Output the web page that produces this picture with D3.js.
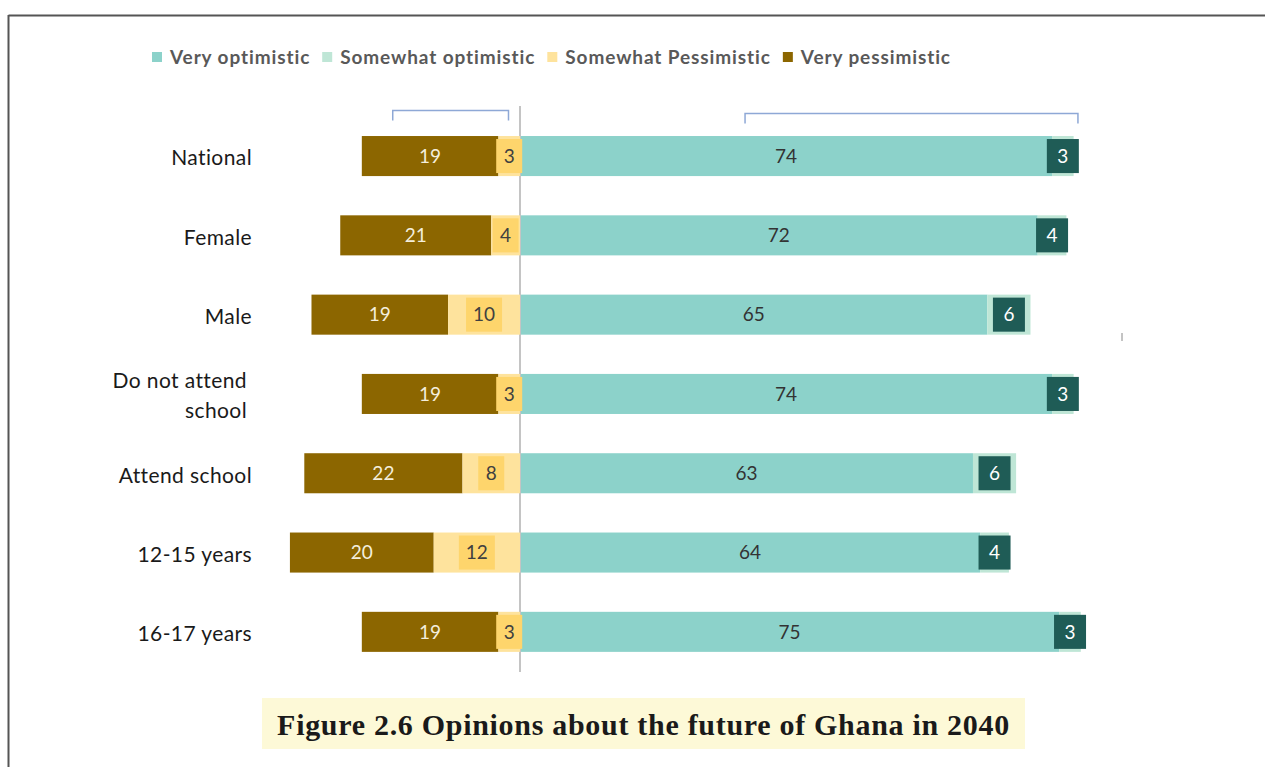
<!DOCTYPE html>
<html>
<head>
<meta charset="utf-8">
<script src="https://cdn.jsdelivr.net/npm/d3@7"></script>
<style>
  html, body { margin: 0; padding: 0; background: #fff; }
  svg { display: block; }
</style>
</head>
<body>
<svg id="chart" width="1265" height="767"></svg>
<script>
// Survey groups (top to bottom)
const categories = ["National", "Female", "Male", "Do not attend school", "Attend school", "12-15 years", "16-17 years"];
// Shares of respondents (%) per opinion
const veryOptimistic      = [74, 72, 65, 74, 63, 64, 75];
const somewhatOptimistic  = [3, 4, 6, 3, 6, 4, 3];
const somewhatPessimistic = [3, 4, 10, 3, 8, 12, 3];
const veryPessimistic     = [19, 21, 19, 19, 22, 20, 19];
const seriesNames = ["Very optimistic", "Somewhat optimistic", "Somewhat Pessimistic", "Very pessimistic"];
const title = "Figure 2.6 Opinions about the future of Ghana in 2040";

const colors = {
  vo: "#8cd2ca",
  so: "#bfe6d6",
  soBox: "#1f5c56",
  sp: "#fee39d",
  spBox: "#fed56c",
  vp: "#8c6600"
};

const svg = d3.select("#chart");
const sans = "Lato, 'Open Sans', sans-serif";

// frame lines (top and left edges)
svg.append("line").attr("x1", 8.5).attr("x2", 1265).attr("y1", 15.5).attr("y2", 15.5)
  .attr("stroke", "#555").attr("stroke-width", 2);
svg.append("line").attr("x1", 8.5).attr("x2", 8.5).attr("y1", 15).attr("y2", 767)
  .attr("stroke", "#555").attr("stroke-width", 2);

const x = d3.scaleLinear().domain([-40, 90]).range([232.4, 1167.1]);
const y = d3.scaleBand().domain(categories).range([116.2, 671.7]).paddingInner(0.495).paddingOuter(0.25);
const bw = y.bandwidth();
const len = v => x(v) - x(0);

const rows = categories.map((c, i) => ({
  cat: c, vo: veryOptimistic[i], so: somewhatOptimistic[i],
  sp: somewhatPessimistic[i], vp: veryPessimistic[i]
}));

// brackets above the bars
const bracket = (a, b, top, drop) => `M${x(a)},${top + drop}V${top}H${x(b)}V${top + drop}`;
svg.append("path").attr("d", bracket(-17.7, -1.6, 110.5, 10))
  .attr("fill", "none").attr("stroke", "#8ea8d6").attr("stroke-width", 1.5);
svg.append("path").attr("d", bracket(31.3, 77.6, 113.5, 10))
  .attr("fill", "none").attr("stroke", "#8ea8d6").attr("stroke-width", 1.5);

// centre line
svg.append("line").attr("x1", x(0)).attr("x2", x(0)).attr("y1", 106).attr("y2", 672)
  .attr("stroke", "#c4c4c4").attr("stroke-width", 2);

const g = svg.append("g");
const row = g.selectAll("g.row").data(rows).join("g").attr("class", "row");

// very pessimistic
row.append("rect")
  .attr("x", d => x(-d.sp - d.vp)).attr("width", d => len(d.vp))
  .attr("y", d => y(d.cat)).attr("height", bw).attr("fill", colors.vp);
// somewhat pessimistic
row.append("rect")
  .attr("x", d => x(-d.sp)).attr("width", d => len(d.sp))
  .attr("y", d => y(d.cat)).attr("height", bw).attr("fill", colors.sp);
// very optimistic
row.append("rect")
  .attr("x", x(0) + 1).attr("width", d => len(d.vo) - 1)
  .attr("y", d => y(d.cat)).attr("height", bw).attr("fill", colors.vo);
// somewhat optimistic
row.append("rect")
  .attr("x", d => x(d.vo)).attr("width", d => len(d.so))
  .attr("y", d => y(d.cat)).attr("height", bw).attr("fill", colors.so);

const labelFont = 19;
// value labels: very pessimistic
row.append("text")
  .attr("x", d => x(-d.sp - d.vp / 2)).attr("y", d => y(d.cat) + bw / 2 + 2)
  .attr("text-anchor", "middle").attr("dominant-baseline", "middle")
  .attr("font-family", sans).attr("font-size", labelFont).attr("fill", "#f4eedc")
  .text(d => d.vp);
// very optimistic
row.append("text")
  .attr("x", d => x(d.vo / 2)).attr("y", d => y(d.cat) + bw / 2 + 2)
  .attr("text-anchor", "middle").attr("dominant-baseline", "middle")
  .attr("font-family", sans).attr("font-size", labelFont).attr("fill", "#333")
  .text(d => d.vo);

// boxed labels: somewhat pessimistic
row.append("rect")
  .attr("width", d => String(d.sp).length > 1 ? 36 : 26)
  .attr("x", d => x(-d.sp / 2) - (String(d.sp).length > 1 ? 18 : 13))
  .attr("y", d => y(d.cat) + 3).attr("height", bw - 6).attr("fill", colors.spBox);
row.append("text")
  .attr("x", d => x(-d.sp / 2)).attr("y", d => y(d.cat) + bw / 2 + 2)
  .attr("text-anchor", "middle").attr("dominant-baseline", "middle")
  .attr("font-family", sans).attr("font-size", labelFont).attr("fill", "#404040")
  .text(d => d.sp);
// somewhat optimistic
row.append("rect")
  .attr("width", 32).attr("x", d => x(d.vo + d.so / 2) - 16)
  .attr("y", d => y(d.cat) + 3).attr("height", bw - 6).attr("fill", colors.soBox);
row.append("text")
  .attr("x", d => x(d.vo + d.so / 2)).attr("y", d => y(d.cat) + bw / 2 + 2)
  .attr("text-anchor", "middle").attr("dominant-baseline", "middle")
  .attr("font-family", sans).attr("font-size", labelFont).attr("fill", "#fff")
  .text(d => d.so);

// category labels
const catText = svg.append("g").selectAll("text").data(categories).join("text")
  .attr("x", 252).attr("y", d => y(d) + bw / 2 + 4)
  .attr("text-anchor", "end").attr("dominant-baseline", "middle")
  .attr("font-family", sans).attr("font-size", 21).attr("letter-spacing", 0.4).attr("fill", "#1a1a1a");
catText.each(function (d) {
  const t = d3.select(this);
  if (d === "Do not attend school") {
    t.append("tspan").attr("x", 247).attr("dy", "-0.7em").text("Do not attend");
    t.append("tspan").attr("x", 247).attr("dy", "1.4em").text("school");
  } else {
    t.text(d);
  }
});

// legend
const legendColors = [colors.vo, colors.so, colors.sp, colors.vp];
let lx = 152;
seriesNames.forEach((name, i) => {
  svg.append("rect").attr("x", lx).attr("y", 52).attr("width", 10).attr("height", 10).attr("fill", legendColors[i]);
  const t = svg.append("text").attr("x", lx + 18).attr("y", 63.5)
    .attr("font-family", sans).attr("font-weight", 700).attr("font-size", 19).attr("letter-spacing", 0.9)
    .attr("fill", "#595959")
    .text(name);
  lx += 18 + t.node().getComputedTextLength() + 12;
});

// small stray tick on the right
svg.append("line").attr("x1", 1122).attr("x2", 1122).attr("y1", 333).attr("y2", 341)
  .attr("stroke", "#888").attr("stroke-width", 1);

// figure caption
svg.append("rect").attr("x", 262).attr("y", 698).attr("width", 763).attr("height", 51).attr("fill", "#fdf9d7");
svg.append("text").attr("x", 643.5).attr("y", 735)
  .attr("text-anchor", "middle")
  .attr("font-family", "'Liberation Serif', 'DejaVu Serif', serif").attr("font-weight", 700)
  .attr("font-size", 30).attr("letter-spacing", 0.7).attr("fill", "#1a1a1a")
  .text(title);
</script>
</body>
</html>
